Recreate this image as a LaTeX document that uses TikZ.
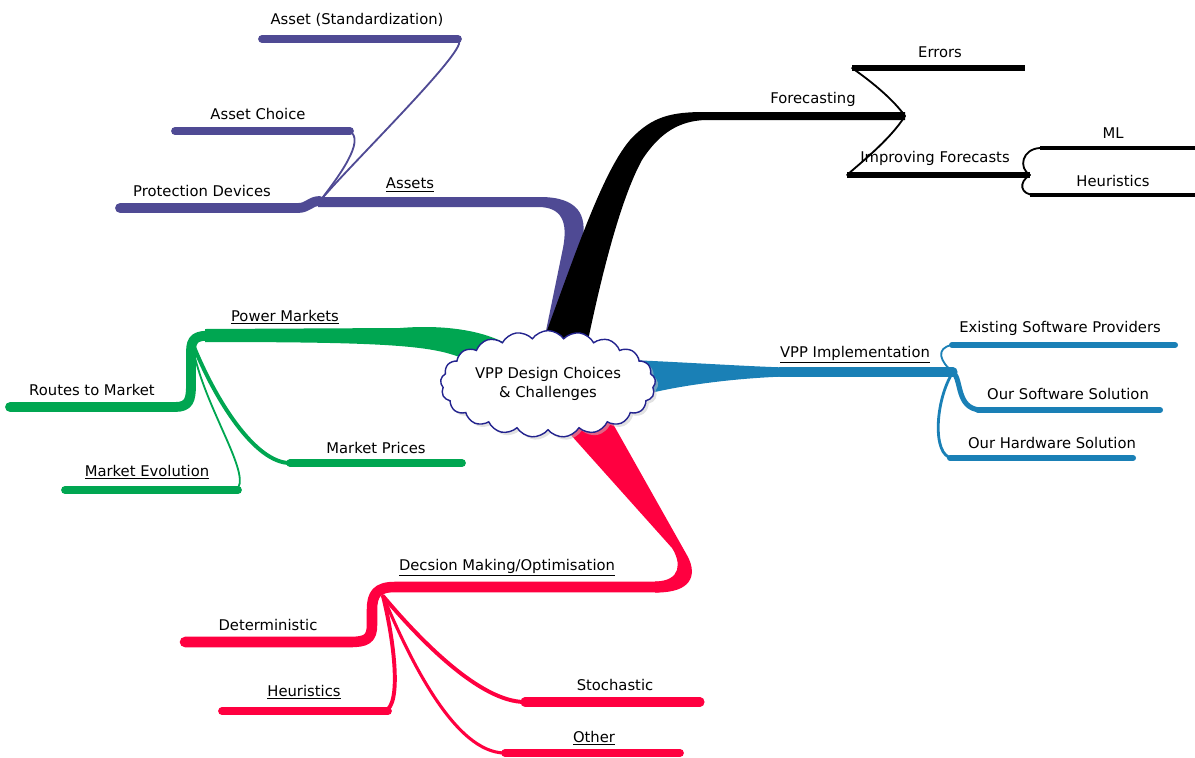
\documentclass[tikz,border=0pt]{standalone}
\usepackage{fontspec}
\setmainfont{DejaVu Sans}
\usepackage{xcolor}
\usepackage{tikz}
\usetikzlibrary{shapes.symbols,shadows}
\definecolor{ink}{HTML}{000000}
\definecolor{assets}{HTML}{4F4A94}
\definecolor{markets}{HTML}{00A651}
\definecolor{impl}{HTML}{1A80B6}
\definecolor{decide}{HTML}{FF0040}
\definecolor{rim}{HTML}{23238E}
\tikzset{
  px/.style={x=0.025cm, y=-0.025cm},
  limb/.style={line width=7pt, line cap=round, line join=round},
  twig/.style={line width=5.5pt, line cap=round, line join=round},
  stalk/.style={line width=2.8pt, line cap=round},
  thread/.style={line width=1.3pt, line cap=round},
  tag/.style={font=\fontsize{10.5}{14}\selectfont, inner sep=1pt},
  hub/.style={
    cloud, cloud puffs=21, cloud puff arc=110, aspect=2.3,
    draw=rim, fill=white, line width=1pt,
    minimum width=5.3cm, minimum height=2.2cm,
    drop shadow={shadow xshift=2pt, shadow yshift=-2pt, fill=gray!45},
    align=center
  }
}
\begin{document}
\begin{tikzpicture}[px]
  \useasboundingbox (0,0) rectangle (1195,757);

  % Assets
  \fill[assets] (540,360) -- (563,248) .. controls (568,222) and (562,207) .. (538,207)
    -- (318,207) -- (318,197) -- (540,197) .. controls (578,197) and (588,215) .. (582,242) -- (557,360) -- cycle;
  \coordinate (ast) at (320,201);
  \draw[assets, limb] (120,208) -- (298,208) .. controls (308,208) and (310,201) .. (ast);
  \draw[assets, twig] (175,131) -- (350,131);
  \draw[assets, twig] (262,39) -- (458,39);
  \draw[assets, thread] (352,133) .. controls (364,145) and (332,185) .. (ast);
  \draw[assets, thread] (459,41) .. controls (466,52) and (345,170) .. (ast);

  % Forecasting
  \fill[ink] (536,360) .. controls (570,270) and (600,175) .. (630,140)
    .. controls (652,116) and (672,112) .. (705,112) -- (905,112) -- (905,120) -- (705,120)
    .. controls (680,121) and (660,132) .. (642,160) .. controls (620,200) and (600,280) .. (584,360) -- cycle;
  \coordinate (fc) at (905,116);
  \coordinate (err) at (852,68);
  \coordinate (imp) at (847,175);
  \coordinate (impe) at (1030,175);
  \draw[ink, thread] (fc) .. controls (890,95) and (862,75) .. (err);
  \draw[ink, thread] (fc) .. controls (890,140) and (858,165) .. (imp);
  \draw[ink, line width=4.3pt] (err) -- (1025,68);
  \draw[ink, line width=4.3pt] (imp) -- (impe);
  \draw[ink, thread] (impe) .. controls (1018,168) and (1022,149) .. (1040,148);
  \draw[ink, line width=2.8pt] (1040,148) -- (1195,148);
  \draw[ink, thread] (impe) .. controls (1018,182) and (1020,195) .. (1035,195);
  \draw[ink, line width=2.8pt] (1030,195) -- (1195,195);

  % Power Markets
  \fill[markets] (205,329) -- (400,328) .. controls (450,324) and (495,332) .. (518,352)
    -- (470,362) .. controls (440,346) and (400,342) .. (205,342) -- cycle;
  \coordinate (pm) at (192,342);
  \draw[markets, limb] (10,407) -- (175,407) .. controls (189,407) and (191,400) .. (191,385)
    -- (191,352) .. controls (191,338) and (196,335.5) .. (212,335.5);
  \draw[markets, thread] (pm) .. controls (200,400) and (250,470) .. (238,488);
  \draw[markets, twig] (65,490) -- (238,490);
  \draw[markets, stalk] (pm) .. controls (215,400) and (255,463) .. (290,463);
  \draw[markets, twig] (290,463) -- (462,463);

  % VPP Implementation
  \fill[impl] (630,360) .. controls (680,362) and (740,366) .. (785,367.5) -- (785,376.5)
    .. controls (740,378) and (690,384) .. (655,392) -- cycle;
  \coordinate (vi) at (953,372);
  \draw[impl, twig, line width=6.5pt] (780,372) -- (vi);
  \draw[impl, thread] (vi) .. controls (940,362) and (935,348) .. (952,345);
  \draw[impl, twig, line width=4.3pt] (952,345) -- (1175,345);
  \draw[impl, stalk, line width=3.6pt] (vi) .. controls (962,380) and (956,408) .. (980,410);
  \draw[impl, twig, line width=4.3pt] (978,410) -- (1160,410);
  \draw[impl, stalk, line width=2pt] (vi) .. controls (935,400) and (932,456) .. (952,458);
  \draw[impl, twig, line width=4.3pt] (950,458) -- (1133,458);

  % Decision making
  \fill[decide] (553,415) -- (672,548) .. controls (681,562) and (682,581) .. (655,581.5)
    -- (655,592.5) .. controls (692,593) and (697,575) .. (688,557) -- (608,415) -- cycle;
  \coordinate (dm) at (383,596);
  \draw[decide, limb, line width=7.5pt] (660,587) -- (395,587) .. controls (377,587) and (372,594) .. (372,610)
    -- (372,625) .. controls (372,639) and (366,642) .. (350,642) -- (185,642);
  \draw[decide, stalk] (dm) .. controls (394,640) and (402,705) .. (385,711);
  \draw[decide, twig] (222,711) -- (388,711);
  \draw[decide, stalk] (dm) .. controls (420,640) and (480,702) .. (525,702);
  \draw[decide, twig, line width=6.5pt] (525,702) -- (700,702);
  \draw[decide, stalk, line width=2.2pt] (dm) .. controls (410,660) and (455,753) .. (505,753);
  \draw[decide, twig] (505,753) -- (680,753);

  \node[hub, tag] (core) at (548,384) {VPP Design Choices\\\& Challenges};

  \node[tag] (forecast) at (813,99) {Forecasting};
  \node[tag] (errors) at (940,52) {Errors};
  \node[tag] (improve) at (935,158) {Improving Forecasts};
  \node[tag] (ml) at (1113,133) {ML};
  \node[tag] (heurf) at (1113,181) {Heuristics};

  \node[tag] (asset) at (410,185) {\underline{Assets}};
  \node[tag] (protect) at (202,191) {Protection Devices};
  \node[tag] (choice) at (258,114) {Asset Choice};
  \node[tag] (standard) at (357,20) {Asset (Standardization)};

  \node[tag] (power) at (285,317) {\underline{Power Markets}};
  \node[tag] (routes) at (92,390) {Routes to Market};
  \node[tag] (evolve) at (147,472) {\underline{Market Evolution}};
  \node[tag] (prices) at (376,448) {Market Prices};

  \node[tag] (implement) at (855,355) {\underline{VPP Implementation}};
  \node[tag] (existing) at (1060,328) {Existing Software Providers};
  \node[tag] (software) at (1068,394) {Our Software Solution};
  \node[tag] (hardware) at (1052,443) {Our Hardware Solution};

  \node[tag] (decision) at (507,568) {\underline{Decsion Making/Optimisation}};
  \node[tag] (determ) at (268,625) {Deterministic};
  \node[tag] (heurd) at (304,692) {\underline{Heuristics}};
  \node[tag] (stoch) at (615,685) {Stochastic};
  \node[tag] (other) at (594,738) {\underline{Other}};
\end{tikzpicture}
\end{document}
